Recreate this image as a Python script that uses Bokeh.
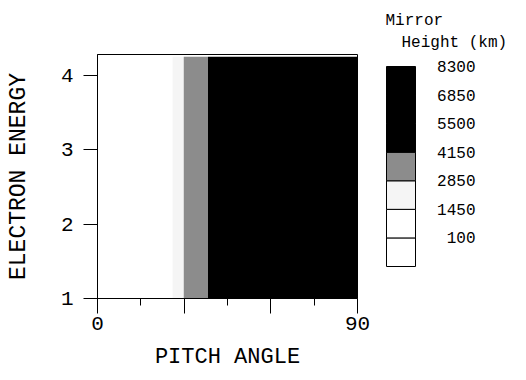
import numpy as np
from bokeh.plotting import figure
from bokeh.layouts import row
from bokeh.models import FixedTicker, Range1d, Title
from bokeh.embed import file_html
from bokeh.resources import INLINE

# ---- data ----
pitch_angle = [0, 5, 10, 15, 20, 25, 26, 28, 30, 32, 34, 36, 38, 40, 45, 50, 60, 70, 80, 90]
mirror_height = [5, 8, 15, 40, 90, 800, 1450, 2200, 2900, 3200, 3500, 3800, 4100, 4500,
                 5500, 6300, 7200, 7800, 8150, 8290]
energy = [1.0, 2.0, 3.0, 4.25]
levels = [0, 100, 1450, 2850, 4150, 5500, 6850, 8300]
level_labels = ["100", "1450", "2850", "4150", "5500", "6850", "8300"]
band_colors = ["#ffffff", "#ffffff", "#f5f5f5", "#8c8c8c", "#000000", "#000000", "#000000"]
x_ticks = [0, 30, 60, 90]
x_minor = [15, 45, 75]
y_ticks = [1, 2, 3, 4]

FONT = "Liberation Mono"

# layout constants (pixels)
W1, H = 370, 380
FL, FR, FT, FB = 97, 13, 54, 82

# merge neighbouring bands of identical colour (avoids seams between fills)
plot_levels = [levels[0]]
plot_colors = []
for i, c in enumerate(band_colors):
    if plot_colors and plot_colors[-1] == c:
        plot_levels[-1] = levels[i + 1]
    else:
        plot_colors.append(c)
        plot_levels.append(levels[i + 1])

z = np.array([mirror_height for _ in energy], dtype=float)

xr = Range1d(0, 90)
yr = Range1d(1, 4.28)
p = figure(width=W1, height=H, output_backend="svg", toolbar_location=None,
           x_range=xr, y_range=yr,
           min_border_left=FL, min_border_right=FR, min_border_top=FT, min_border_bottom=FB)
p.contour(np.array(pitch_angle, dtype=float), np.array(energy, dtype=float), z,
          levels=plot_levels, fill_color=plot_colors, line_color=None)

p.grid.visible = False
p.outline_line_color = "black"
p.outline_line_width = 1

xa = p.xaxis[0]
xa.ticker = FixedTicker(ticks=x_ticks, minor_ticks=x_minor)
xa.major_label_overrides = {30: "", 60: ""}
xa.major_tick_out = 15
xa.major_tick_in = 0
xa.minor_tick_out = 7
xa.minor_tick_in = 0
xa.major_label_standoff = 3
xa.major_label_text_font = FONT
xa.major_label_text_font_size = "21px"
xa.major_label_text_color = "black"
xa.axis_label = "PITCH ANGLE"
xa.axis_label_text_font = FONT
xa.axis_label_text_font_size = "22px"
xa.axis_label_text_font_style = "normal"
xa.axis_label_text_color = "black"
xa.axis_label_standoff = 12
xa.axis_line_color = "black"

ya = p.yaxis[0]
ya.ticker = FixedTicker(ticks=y_ticks, minor_ticks=[])
ya.major_tick_out = 14
ya.major_tick_in = 0
ya.major_label_standoff = 10
ya.major_label_text_font = FONT
ya.major_label_text_font_size = "21px"
ya.major_label_text_color = "black"
ya.axis_label = "ELECTRON ENERGY"
ya.axis_label_text_font = FONT
ya.axis_label_text_font_size = "23px"
ya.axis_label_text_font_style = "normal"
ya.axis_label_text_color = "black"
ya.axis_label_standoff = 26
ya.axis_line_color = "black"

# ---- colour key ----
W2 = 526 - W1
box_left_px, box_w_px = 386 - W1, 29
box_top_px, box_bot_px = 66, 266
nb = len(band_colors)
unit_px = (box_bot_px - box_top_px) / nb

p2 = figure(width=W2, height=H, output_backend="svg", toolbar_location=None,
            x_range=Range1d(-box_left_px / box_w_px, (W2 - box_left_px) / box_w_px),
            y_range=Range1d(-(H - FB - box_bot_px) / unit_px, nb + (box_top_px - FT) / unit_px),
            x_axis_type=None, y_axis_type=None,
            min_border_left=0, min_border_right=0, min_border_top=FT, min_border_bottom=FB)
p2.grid.visible = False
p2.outline_line_color = None

idx = list(range(nb))
p2.quad(left=[0] * nb, right=[1] * nb, bottom=idx, top=[i + 1 for i in idx],
        fill_color=band_colors, line_color="black", line_width=1)

p2.text(x=[(475 - 386) / box_w_px] * len(level_labels),
        y=[i + 1 for i in range(len(level_labels))], text=level_labels,
        text_font={"value": FONT}, text_font_size="16px", text_align="right",
        text_baseline="middle", text_color="black")

p2.add_layout(Title(text="Height (km)", align="left", offset=401 - W1, standoff=6,
                    text_font=FONT, text_font_size="16px", text_font_style="normal",
                    text_color="black"), "above")
p2.add_layout(Title(text="Mirror", align="left", offset=385 - W1, standoff=-3,
                    text_font=FONT, text_font_size="16px", text_font_style="normal",
                    text_color="black"), "above")

layout = row(p, p2)
open("out.html", "w").write(file_html(layout, INLINE))
